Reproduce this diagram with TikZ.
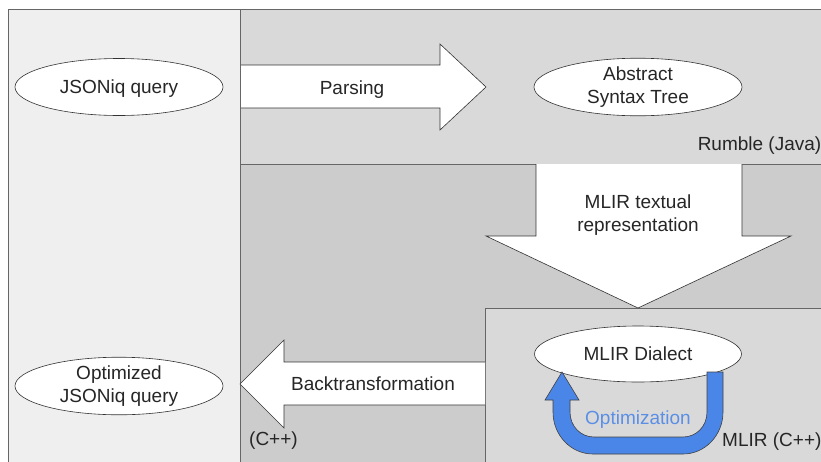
\documentclass[tikz,border=0pt]{standalone}
\usepackage{fontspec}
\setmainfont{Liberation Sans}
\usetikzlibrary{shapes.geometric}
\definecolor{panelL}{HTML}{EFEFEF}
\definecolor{panelT}{HTML}{D9D9D9}
\definecolor{panelB}{HTML}{CCCCCC}
\definecolor{edgegray}{HTML}{666666}
\definecolor{optblue}{HTML}{4A86E8}
\definecolor{opttext}{HTML}{5B8FE6}
\tikzset{
  panel/.style={draw=edgegray, line width=0.9pt},
  bigarrow/.style={draw=black!80, fill=white, line width=0.6pt, line join=miter},
  oval/.style={ellipse, draw=black!80, fill=white, line width=0.6pt, inner sep=0pt, align=center,
    font=\fontsize{19}{23}\selectfont, text=black!85},
  lbl/.style={font=\fontsize{19}{23}\selectfont, text=black!85, align=center, inner sep=0pt},
  oneline/.style={text height=13.5pt, text depth=0pt},
}
\begin{document}
\begin{tikzpicture}[x=1pt, y=-1pt]
\useasboundingbox (0,0) rectangle (821,461);
\clip (0,0) rectangle (821,461);
\fill[white] (0,0) rectangle (821,461);
% panels
\path[panel, fill=panelL] (8,9) rectangle (240,475);
\path[panel, fill=panelT] (240,9) rectangle (830,164);
\path[panel, fill=panelB] (240,164) rectangle (830,475);
\path[panel, fill=panelT] (485,308) rectangle (830,475);
% Parsing arrow
\path[bigarrow] (240,65) -- (440,65) -- (440,44) -- (486,87) -- (440,130) -- (440,108) -- (240,108);
\draw[edgegray, line width=0.9pt] (240,9) -- (240,164);
\node[lbl, oneline] (parsing) at (352,88) {Parsing};
% down arrow
\path[bigarrow] (536,164) -- (536,236) -- (486,236) -- (638,308) -- (791,236) -- (742,236) -- (742,164);
\node[lbl] (textual) at (638,215) {MLIR textual\\representation};
% back arrow
\path[bigarrow] (485,362) -- (284,362) -- (284,340) -- (240,384) -- (284,428) -- (284,405) -- (485,405);
\node[lbl, oneline] (back) at (373,384) {Backtransformation};
% ellipses
\node[oval, oneline, minimum width=208pt, minimum height=57pt] (json) at (119,87) {JSONiq query};
\node[oval, minimum width=208pt, minimum height=57pt] (ast) at (638,87) {Abstract\\Syntax Tree};
\node[oval, minimum width=208pt, minimum height=55pt] (opt) at (119,386) {Optimized\\JSONiq query};
\node[oval, oneline, minimum width=207pt, minimum height=56pt] (dialect) at (638,354) {MLIR Dialect};
% optimization loop arrow
\path[draw=black!75, fill=optblue, line width=0.6pt, line join=miter]
  (707,372) -- (723,372) -- (723,412)
  .. controls (723,435.2) and (705.1,454) .. (683,454)
  -- (593,454)
  .. controls (570.9,454) and (553,435.2) .. (553,412)
  -- (553,400) -- (545,400) -- (562,372) -- (579,400) -- (570,400) -- (570,412)
  .. controls (570,426.4) and (580.7,437) .. (594,437)
  -- (683,437)
  .. controls (696.3,437) and (707,426.4) .. (707,412) -- cycle;
\node[lbl, oneline, text=opttext] (optlabel) at (638,418) {Optimization};
% labels
\node[lbl, anchor=east] (rumble) at (821.5,146) {Rumble (Java)};
\node[lbl, anchor=west] (mlircpp) at (722,442) {MLIR (C++)};
\node[lbl, anchor=west] (cpp) at (249,441) {(C++)};
\end{tikzpicture}
\end{document}
